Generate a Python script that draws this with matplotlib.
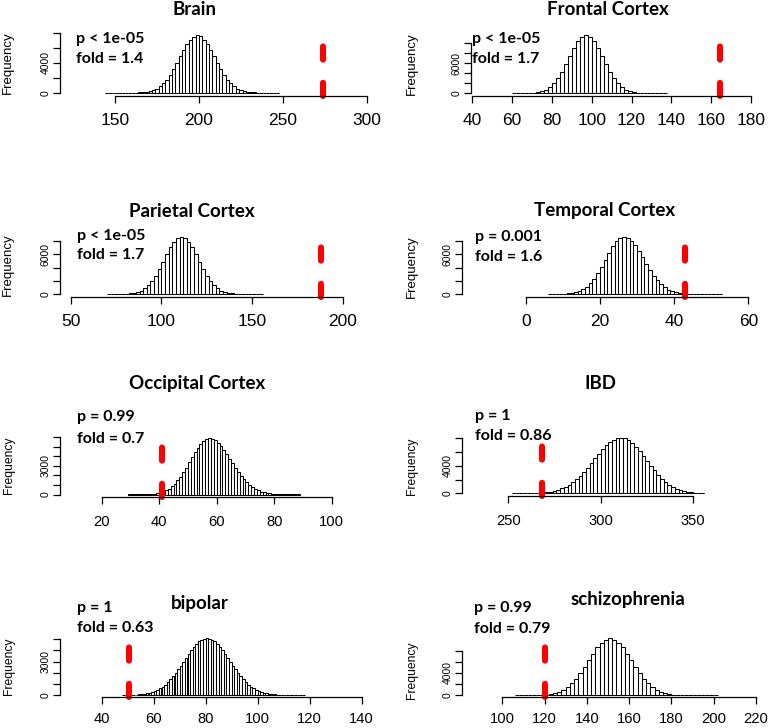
import matplotlib.pyplot as plt
import numpy as np

W, H = 770, 728

titles = ['Brain', 'Frontal Cortex', 'Parietal Cortex', 'Temporal Cortex',
          'Occipital Cortex', 'IBD', 'bipolar', 'schizophrenia']
p_labels = ['p < 1e-05', 'p < 1e-05', 'p < 1e-05', 'p = 0.001',
            'p = 0.99', 'p = 1', 'p = 1', 'p = 0.99']
fold_labels = ['fold = 1.4', 'fold = 1.7', 'fold = 1.7', 'fold = 1.6',
               'fold = 0.7', 'fold = 0.86', 'fold = 0.63', 'fold = 0.79']
observed = [274, 164.5, 188, 43, 41, 268, 50.5, 120]
break_start = [144, 60, 70, 6, 29, 252, 48, 106]
bin_width = [2, 2, 2, 1, 1, 2, 1, 2]

brain_counts = [1, 1, 1, 1, 1, 1, 3, 5, 11, 22, 41, 74, 130, 220, 359, 565, 859, 1255,
                1770, 2410, 3170, 4010, 4890, 5760, 6540, 7160, 7490, 7740, 7610, 7160,
                6590, 5760, 4890, 4010, 3170, 2410, 1770, 1255, 859, 565, 359, 220, 130,
                74, 41, 22, 11, 5, 3, 2, 1, 1]
frontal_counts = [2, 4, 10, 23, 51, 108, 216, 407, 730, 1230, 1970, 2990, 4280, 5810,
                  7450, 9040, 10380, 11280, 11600, 11280, 10380, 9040, 7450, 5810, 4280,
                  2990, 1970, 1230, 730, 407, 216, 108, 51, 23, 10, 4, 2, 1, 1]
parietal_counts = [1, 2, 5, 11, 24, 48, 93, 174, 310, 527, 856, 1329, 1970, 2786, 3764,
                   4853, 5975, 7025, 7890, 8450, 8650, 8450, 7890, 7025, 5975, 4853, 3764,
                   2786, 1970, 1329, 856, 527, 310, 174, 93, 48, 24, 11, 5, 2, 1, 1, 1]
temporal_counts = [2, 5, 10, 21, 42, 80, 146, 256, 431, 695, 1077, 1600, 2280, 3115,
                   4085, 5140, 6200, 7170, 7960, 8470, 8650, 8500, 8055, 7370, 6505, 5545,
                   4557, 3616, 2770, 2047, 1459, 1005, 667, 427, 265, 158, 91, 50, 27, 14,
                   7, 3, 2, 1, 1, 1, 1]
occipital_counts = [1, 2, 3, 5, 8, 14, 23, 37, 60, 93, 143, 214, 313, 446, 622, 848, 1129,
                    1471, 1872, 2328, 2830, 3362, 3900, 4430, 4910, 5320, 5635, 5835, 5900,
                    5846, 5688, 5434, 5097, 4696, 4248, 3771, 3289, 2816, 2368, 1954, 1584,
                    1261, 985, 756, 569, 421, 306, 218, 153, 105, 71, 47, 30, 19, 12, 7, 4,
                    3, 2, 1]
ibd_counts = [3, 5, 8, 13, 21, 34, 53, 81, 122, 180, 261, 372, 518, 709, 953, 1256, 1623,
              2058, 2562, 3129, 3749, 4407, 5083, 5752, 6385, 6958, 7435, 7800, 8023, 8100,
              8001, 7742, 7330, 6788, 6148, 5452, 4725, 4009, 3325, 2700, 2144, 1666, 1267,
              942, 685, 488, 340, 231, 154, 100, 64, 40, 24, 15, 9, 5, 3]
bipolar_counts = [6, 9, 13, 20, 29, 41, 59, 82, 114, 155, 209, 277, 363, 470, 600, 756, 940,
                  1154, 1397, 1670, 1970, 2293, 2635, 2987, 3342, 3690, 4021, 4323, 4588,
                  4806, 4967, 5066, 5100, 5066, 4967, 4806, 4588, 4323, 4021, 3690, 3342,
                  2987, 2635, 2293, 1970, 1670, 1397, 1154, 940, 756, 600, 470, 363, 277,
                  209, 155, 114, 82, 59, 41, 29, 20, 13, 9, 6, 4, 3, 2, 1, 1]
schizo_counts = [1, 2, 5, 10, 20, 39, 74, 135, 235, 396, 640, 996, 1491, 2148, 2978, 3975,
                 5104, 6304, 7497, 8578, 9445, 10006, 10200, 10006, 9445, 8578, 7497, 6304,
                 5104, 3975, 2978, 2148, 1491, 996, 640, 396, 235, 135, 74, 39, 20, 10, 5,
                 2, 1, 1, 1, 1]
all_counts = [brain_counts, frontal_counts, parietal_counts, temporal_counts,
              occipital_counts, ibd_counts, bipolar_counts, schizo_counts]

x_ticks = [[150, 200, 250, 300], list(range(40, 181, 20)), [50, 100, 150, 200],
           [0, 20, 40, 60], [20, 40, 60, 80, 100], [250, 300, 350],
           list(range(40, 141, 20)), list(range(100, 221, 20))]
y_ticks = [list(range(0, 8001, 2000)), list(range(0, 10001, 2000)),
           list(range(0, 8001, 2000)), list(range(0, 8001, 2000)),
           list(range(0, 6001, 1000)), list(range(0, 8001, 2000)),
           list(range(0, 5001, 1000)), list(range(0, 8001, 2000))]
y_shown = [[0, 4000], [0, 6000], [0, 6000], [0, 6000],
           [0, 3000], [0, 4000], [0, 3000], [0, 4000]]

# pixel layout of each panel (image px, y from top)
# left spine x, axis line y, (xval0, px0, xval1, px1), (px of 0, top tick px),
# title xy, text x/y1/y2, ylabel xy, tick font scale, x label pad
layout = [
    (60, 96, (150, 115, 300, 366.7), (92.7, 33.3), (195, 9.3), (76, 39, 59), (8.3, 62.7), 1.0, 7.5),
    (471, 96, (40, 472.3, 180, 751), (93.3, 43.3), (608.3, 9.3), (472.3, 39.3, 59.3), (411.7, 63.3), 1.0, 7.5),
    (60, 296.7, (50, 70.7, 200, 342.7), (294, 241), (191.7, 211.7), (77, 236, 255), (8.3, 265), 1.0, 7.5),
    (462.3, 296.7, (0, 525.7, 60, 748.3), (294, 241), (605, 210.7), (475, 237.3, 257.3), (411.7, 266.7), 1.0, 7.5),
    (60, 496.7, (20, 101.7, 100, 331.7), (494.5, 437.3), (196.7, 384), (77.3, 417.3, 439), (9.3, 465), 0.85, 8.3),
    (462.3, 495.7, (250, 508.3, 350, 693.3), (493.3, 438.3), (600, 383.3), (475, 416, 436), (411.7, 466.7), 0.85, 8.3),
    (60, 697.3, (40, 101.7, 140, 361.7), (695, 639.3), (200, 603.3), (77.3, 608.3, 628.3), (9.3, 666.7), 0.85, 5.8),
    (462.3, 697.3, (100, 502.3, 220, 756), (695.3, 650.7), (628.3, 599.3), (474.3, 608.3, 629), (411.7, 670), 0.85, 5.8),
]

AXIS_FONT = 'Liberation Sans'
BOLD_FONT = 'Lato'

fig = plt.figure(figsize=(W / 100, H / 100), dpi=100)


def lin(p, p0, v0, p1, v1):
    return v0 + (p - p0) * (v1 - v0) / (p1 - p0)


for i in range(8):
    counts = np.array(all_counts[i], dtype=float)
    edges = break_start[i] + bin_width[i] * np.arange(len(counts) + 1)
    left, axis_y, xr, yr, tpos, txt, ylab, fs, xpad = layout[i]
    xv0, xp0, xv1, xp1 = xr
    zero_px, top_px = yr
    ytop_val = y_ticks[i][-1]

    right = xp1 + 12
    peak_px = lin(counts.max(), 0, zero_px, ytop_val, top_px)
    top = min(peak_px, top_px) - 6

    ax = fig.add_axes([left / W, 1 - axis_y / H, (right - left) / W, (axis_y - top) / H])
    ax.set_xlim(lin(left, xp0, xv0, xp1, xv1), lin(right, xp0, xv0, xp1, xv1))
    ax.set_ylim(lin(axis_y, zero_px, 0, top_px, ytop_val), lin(top, zero_px, 0, top_px, ytop_val))
    ax.patch.set_alpha(0)

    ax.bar(edges[:-1], counts, width=bin_width[i], align='edge', color='white',
           edgecolor='black', linewidth=0.75)

    # observed value, dashed red line
    y_line_end = lin(axis_y - 62, zero_px, 0, top_px, ytop_val)
    ax.plot([observed[i], observed[i]], [ax.get_ylim()[0], y_line_end], color='red',
            linewidth=4.4, linestyle=(0, (2.15, 3.8)), dash_capstyle='round', clip_on=False)

    for s in ['top', 'right']:
        ax.spines[s].set_visible(False)
    ax.spines['left'].set_bounds(0, ytop_val)
    ax.spines['bottom'].set_bounds(x_ticks[i][0], x_ticks[i][-1])
    for s in ['left', 'bottom']:
        ax.spines[s].set_linewidth(0.9)

    ax.set_xticks(x_ticks[i])
    ax.set_xticklabels([str(v) for v in x_ticks[i]], fontsize=12.5 * fs, family=AXIS_FONT)
    ax.set_yticks(y_ticks[i])
    ax.set_yticklabels([str(v) if v in y_shown[i] else '' for v in y_ticks[i]],
                       fontsize=7.5, family=AXIS_FONT, rotation=90, va='center')
    ax.tick_params(axis='both', direction='out', length=5, width=0.9, colors='black')
    ax.tick_params(axis='x', pad=xpad)
    ax.tick_params(axis='y', pad=2)

    fig.text(tpos[0] / W, 1 - tpos[1] / H, titles[i], ha='center', va='center',
             fontsize=13.5, fontweight='bold', family=BOLD_FONT)
    fig.text(txt[0] / W, 1 - txt[1] / H, p_labels[i], ha='left', va='center',
             fontsize=11.5, fontweight='bold', family=BOLD_FONT)
    fig.text(txt[0] / W, 1 - txt[2] / H, fold_labels[i], ha='left', va='center',
             fontsize=11.5, fontweight='bold', family=BOLD_FONT)
    fig.text(ylab[0] / W, 1 - ylab[1] / H, 'Frequency', ha='center', va='center',
             rotation=90, fontsize=9.5 * (1 if fs == 1.0 else 0.92), family=AXIS_FONT)

fig.savefig('out.png', dpi=100)
